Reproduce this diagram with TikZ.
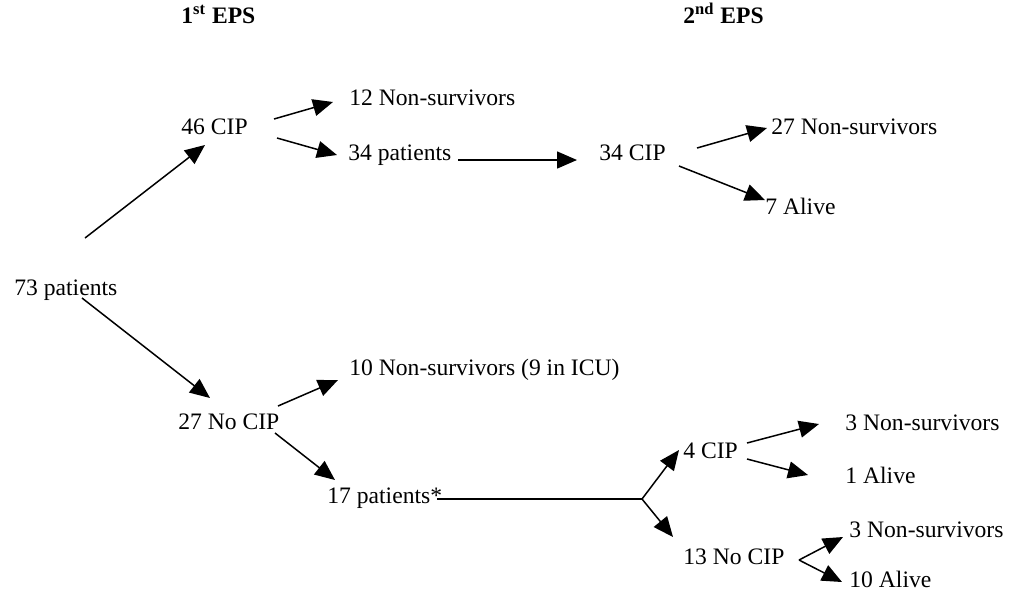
\documentclass[tikz,border=0pt]{standalone}
\usepackage{fontspec}
\setmainfont{Liberation Serif}
\usetikzlibrary{arrows.meta}
\tikzset{
  lbl/.style={inner sep=0pt,anchor=base west,font=\fontsize{11.8}{14}\selectfont},
  hdr/.style={lbl,font=\fontsize{11.8}{14}\selectfont\bfseries},
  arr/.style={-{Triangle[length=10pt,width=8.5pt]},line width=0.75pt},
  seg/.style={line width=0.75pt},
}
\begin{document}
\begin{tikzpicture}[x=0.5pt,y=-0.5pt]
  \useasboundingbox (0,0) rectangle (1015,596);
  % headings
  \node[hdr] (h1) at (181,23) {1\textsuperscript{st} EPS};
  \node[hdr] (h2) at (683,23) {2\textsuperscript{nd} EPS};
  % first EPS
  \node[lbl] (p73)  at (14,295)  {73 patients};
  \node[lbl] (c46)  at (181,134) {46 CIP};
  \node[lbl] (n12)  at (349,105) {12 Non-survivors};
  \node[lbl] (p34)  at (348,160) {34 patients};
  \node[lbl] (nc27) at (178,429) {27 No CIP};
  \node[lbl] (n10)  at (349,375) {10 Non-survivors (9 in ICU)};
  \node[lbl] (p17)  at (327,503) {17 patients*};
  % second EPS
  \node[lbl] (c34)  at (599,160) {34 CIP};
  \node[lbl] (n27)  at (771,134) {27 Non-survivors};
  \node[lbl] (a7)   at (765,214) {7 Alive};
  \node[lbl] (c4)   at (683,458) {4 CIP};
  \node[lbl] (n3a)  at (845,430) {3 Non-survivors};
  \node[lbl] (a1)   at (845,483) {1 Alive};
  \node[lbl] (nc13) at (683,564) {13 No CIP};
  \node[lbl] (n3b)  at (849,537) {3 Non-survivors};
  \node[lbl] (a10)  at (849,587) {10 Alive};
  \coordinate (split) at (642,499);
  % arrows
  \draw[arr] ([shift={(71,-57)}]p73.base west) -- ([shift={(24,11)}]c46.base west);
  \draw[arr] ([shift={(93,-15)}]c46.base west) -- ([shift={(-16,-3)}]n12.base west);
  \draw[arr] ([shift={(96,4)}]c46.base west) -- ([shift={(-11,-5)}]p34.base west);
  \draw[arr] ([shift={(110,0)}]p34.base west) -- ([shift={(-22,0)}]c34.base west);
  \draw[arr] ([shift={(98,-12)}]c34.base west) -- ([shift={(-4,-6)}]n27.base west);
  \draw[arr] ([shift={(80,6)}]c34.base west) -- ([shift={(0,-14)}]a7.base west);
  \draw[arr] ([shift={(68,3)}]p73.base west) -- ([shift={(32,-31)}]nc27.base west);
  \draw[arr] ([shift={(100,-23)}]nc27.base west) -- ([shift={(-11,5)}]n10.base west);
  \draw[arr] ([shift={(97,4)}]nc27.base west) -- ([shift={(8,-23)}]p17.base west);
  \draw[seg] ([shift={(110,-4)}]p17.base west) -- (split);
  \draw[arr] (split) -- ([shift={(-4,-8)}]c4.base west);
  \draw[arr] (split) -- ([shift={(-10,-27)}]nc13.base west);
  \draw[arr] ([shift={(64,-15)}]c4.base west) -- ([shift={(-26,-6)}]n3a.base west);
  \draw[arr] ([shift={(64,1)}]c4.base west) -- ([shift={(-37,-8)}]a1.base west);
  \draw[arr] ([shift={(116,-4)}]nc13.base west) -- ([shift={(-6,0)}]n3b.base west);
  \draw[arr] ([shift={(116,-4)}]nc13.base west) -- ([shift={(-7,-5)}]a10.base west);
\end{tikzpicture}
\end{document}
